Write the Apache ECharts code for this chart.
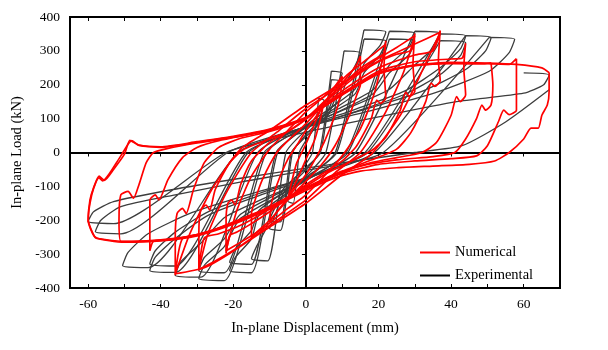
<!DOCTYPE html>
<html><head><meta charset="utf-8">
<script src="https://cdn.jsdelivr.net/npm/echarts@6/dist/echarts.min.js"></script>
<style>html,body{margin:0;padding:0;background:#fff}#c{width:608px;height:350px}</style>
</head><body><div id="c"></div>
<script>
// ---------- axis settings ----------
const xLimits = [-65, 70];
const yLimits = [-400, 400];
const yStep = 100;
const xLabelStep = 20;
const xTitle = 'In-plane Displacement (mm)';
const yTitle = 'In-plane Load (kN)';
const seriesNames = ['Numerical', 'Experimental'];

// ---------- experimental cycles (displacement mm, load kN) ----------
const exp01 = [[3.5,160],[5,154],[4.3,120],[3.1,83],[1.5,58],[0,35],[-1.8,0],[-3.5,-150],[-5,-144],[-4.3,-110],[-3.1,-78],[-1.5,-54],[0,-33],[1.8,0],[3.5,160]];
const exp02 = [[7,240],[10,234],[8.5,195],[6.2,125],[3,86],[0,53],[-3.7,0],[-7,-230],[-10,-224],[-8.5,-185],[-6.2,-120],[-3,-83],[0,-51],[3.7,0],[7,240]];
const exp02b = [[7,215],[10,209],[8.5,172],[6.2,112],[3,77],[0,47],[-4,0],[-7,-205],[-10,-199],[-8.5,-162],[-6.2,-107],[-3,-74],[0,-45],[4,0],[7,215]];
const exp03 = [[10.5,300],[15,294],[13.5,255],[11,205],[9.3,156],[4.5,108],[0,66],[-5.5,0],[-10.5,-320],[-15,-314],[-13.5,-275],[-11,-225],[-9.3,-166],[-4.5,-115],[0,-70],[5.5,0],[10.5,300]];
const exp04 = [[16,362],[22,356],[20.5,317],[16,262],[13.6,188],[6.6,130],[0,80],[-7.8,0],[-15,-355],[-21,-349],[-19.5,-310],[-15,-255],[-13,-185],[-6.3,-128],[0,-78],[8.1,0],[16,362]];
const exp04b = [[16,335],[22,329],[20.5,290],[16,235],[13.6,174],[6.6,121],[0,74],[-8.2,0],[-15,-330],[-21,-324],[-19.5,-285],[-15,-230],[-13,-172],[-6.3,-119],[0,-73],[8.5,0],[16,335]];
const exp05 = [[23,358],[30,352],[28.5,313],[23,258],[18.6,186],[9,129],[0,79],[-10.9,0],[-22.5,-378],[-29.5,-372],[-28,-333],[-22.5,-278],[-18.3,-197],[-8.9,-136],[0,-83],[11.1,0],[23,358]];
const exp05b = [[23,335],[30,329],[28.5,290],[23,235],[18.6,174],[9,121],[0,74],[-11.5,0],[-22.5,-355],[-29.5,-349],[-28,-310],[-22.5,-255],[-18.3,-185],[-8.9,-128],[0,-78],[11.6,0],[23,335]];
const exp06 = [[30,358],[37,352],[35.5,313],[30,258],[22.9,186],[11.1,129],[0,79],[-13.3,0],[-29,-368],[-36,-362],[-34.5,-323],[-29,-268],[-22.3,-191],[-10.8,-132],[0,-81],[13.7,0],[30,358]];
const exp07 = [[37,350],[44,344],[42.5,305],[37,250],[27.3,182],[13.2,126],[0,77],[-15.9,0],[-36,-354],[-43,-348],[-41.5,-309],[-36,-254],[-26.7,-184],[-12.9,-127],[0,-78],[16.3,0],[37,350]];
const exp07b = [[37,330],[44,324],[42.5,285],[37,230],[27.3,172],[13.2,119],[0,73],[-16.5,0],[-36,-335],[-43,-329],[-41.5,-290],[-36,-235],[-26.7,-174],[-12.9,-121],[0,-74],[17,0],[37,330]];
const exp08 = [[44,345],[51,339],[49.5,300],[44,245],[31.6,179],[15.3,124],[0,76],[-18.7,0],[-43.5,-340],[-50.5,-334],[-49,-295],[-43.5,-240],[-31.3,-177],[-15.2,-122],[0,-75],[18.9,0],[44,345]];
const exp09 = [[50.5,340],[57.5,334],[56,295],[50.5,240],[35.7,177],[17.3,122],[0,75],[-21.5,0],[-51,-240],[-58,-234],[-56.5,-200],[-51,-160],[-36,-125],[-17.4,-86],[0,-53],[21.3,0],[50.5,340]];
const exp10 = [[60,235],[67,229],[65.5,200],[60,175],[41.5,150],[20,105],[0,60],[-22,0],[-53,-210],[-60,-204],[-58.5,-175],[-53,-145],[-37,-110],[-18,-76],[0,-46],[30,0],[43,20],[55,90],[67,185]];

// ---------- numerical cycles ----------
const num01 = [[5,150],[4,100],[2.5,40],[0,-20],[-2,-70],[-4,-115],[-5,-140],[-4,-90],[-2.5,-30],[0,25],[2,75],[4,125],[5,150]];
const num02 = [[10,225],[9.5,170],[8,110],[5,30],[2,-30],[0,-65],[-4,-120],[-8,-175],[-10,-205],[-9.5,-150],[-8,-95],[-5,-20],[-2,30],[0,65],[4,125],[8,195],[10,225]];
const num03 = [[15,285],[15,200],[14,170],[12,110],[8,20],[4,-40],[0,-85],[-5,-140],[-10,-200],[-14,-240],[-15,-255],[-15,-180],[-14,-140],[-12,-80],[-8,0],[-4,45],[0,85],[5,145],[10,205],[14,260],[15,285]];
const num04 = [[22,330],[21.5,250],[22,160],[20.5,145],[19.5,155],[18,100],[14,20],[10,-25],[5,-60],[0,-95],[-5,-135],[-10,-175],[-15,-210],[-19,-235],[-21,-245],[-22,-298],[-22,-200],[-21.5,-150],[-20.5,-140],[-19.5,-155],[-18,-95],[-15,-25],[-10,30],[-5,62],[0,100],[5,150],[10,200],[15,248],[20,282],[21.5,292],[22,330]];
const num04b = [[22,320],[18,285],[12,235],[5,165],[0,120],[-5,65],[-10,10],[-15,-70],[-19,-170],[-22,-290],[-18,-265],[-12,-225],[-5,-165],[0,-125],[5,-70],[10,-10],[15,70],[19,180],[22,320]];
const num05 = [[30,351],[29.5,260],[30,180],[28.5,165],[27.5,178],[26,125],[22,45],[18,5],[12,-28],[6,-60],[0,-100],[-6,-140],[-12,-180],[-18,-215],[-24,-240],[-28,-252],[-29.5,-348],[-29.5,-240],[-29,-170],[-27.5,-155],[-26.5,-170],[-25,-110],[-21,-30],[-17,10],[-10,40],[-5,62],[0,98],[5,145],[10,192],[15,235],[20,268],[25,290],[29,302],[30,351]];
const num05b = [[30,345],[25,310],[18,265],[10,200],[0,130],[-8,60],[-15,0],[-22,-120],[-27,-240],[-29.5,-345],[-25,-320],[-18,-275],[-10,-215],[0,-140],[8,-60],[15,0],[22,120],[27,240],[30,345]];
const num06 = [[37,360],[36.5,270],[37,212],[35.5,195],[34.5,205],[33,150],[29,60],[25,10],[18,-22],[10,-55],[5,-78],[0,-103],[-10,-160],[-20,-205],[-28,-238],[-34,-254],[-36,-362],[-36,-250],[-35.5,-180],[-34,-165],[-33,-180],[-31,-110],[-28,-30],[-24,15],[-18,42],[-10,62],[0,100],[5,140],[10,182],[20,250],[30,288],[35,300],[37,360]];
const num06b = [[37,355],[30,320],[20,270],[10,205],[0,140],[-10,65],[-18,10],[-26,-110],[-32,-240],[-36,-358],[-28,-340],[-21,-298],[-10,-220],[0,-150],[10,-65],[18,-5],[26,110],[32,240],[37,355]];
const num07 = [[44,322],[43.5,250],[44,170],[42.5,150],[41.5,165],[40,110],[36,30],[32,0],[25,-15],[18,-30],[10,-58],[0,-105],[-10,-162],[-20,-208],[-30,-242],[-38,-258],[-42,-262],[-43,-290],[-43,-220],[-43,-140],[-41.5,-125],[-40.5,-140],[-38,-80],[-34,-15],[-30,15],[-24,35],[-15,55],[-8,72],[0,102],[10,175],[20,240],[30,268],[40,276],[43,278],[44,322]];
const num08 = [[51,265],[51.5,200],[51,140],[49.5,125],[48.5,140],[47,100],[44,40],[41,0],[35,-12],[25,-22],[15,-40],[8,-65],[0,-106],[-10,-162],[-20,-208],[-30,-243],[-40,-258],[-48,-262],[-51,-262],[-51.5,-200],[-51,-125],[-49,-115],[-47.5,-135],[-46,-95],[-44,-30],[-42,0],[-38,12],[-30,28],[-20,45],[-10,66],[0,102],[10,170],[20,232],[30,256],[40,263],[49,262],[51,265]];
const num09 = [[58,277],[58,200],[58,125],[56,112],[54.5,125],[53,90],[50,20],[47,-10],[40,-18],[30,-25],[20,-35],[10,-62],[0,-108],[-10,-163],[-20,-209],[-30,-244],[-40,-259],[-50,-263],[-56,-256],[-58,-252],[-60,-198],[-59.5,-150],[-58.5,-106],[-57,-74],[-56,-84],[-54,-60],[-51,-10],[-48,35],[-46,21],[-40,15],[-30,30],[-20,46],[-10,67],[0,102],[10,171],[20,233],[30,257],[40,264],[50,262],[56,260],[58,277]];
const num10 = [[67,236],[67,180],[66.5,140],[65,110],[64,72],[62,72],[60,40],[56,0],[52,-25],[45,-35],[35,-40],[25,-45],[15,-55],[8,-75],[0,-112],[-10,-166],[-20,-212],[-30,-246],[-40,-261],[-50,-265],[-58,-250],[-60,-200],[-59.5,-140],[-58.5,-104],[-57,-70],[-55.5,-82],[-53,-50],[-50,-5],[-48.5,36],[-46,22],[-40,17],[-30,32],[-20,48],[-10,69],[0,104],[10,173],[20,235],[30,258],[40,266],[50,264],[58,260],[65,250],[67,236]];

const expCycles = [exp01, exp02, exp02b, exp03, exp04, exp04b, exp05, exp05b, exp06, exp07, exp07b, exp08, exp09, exp10];
const numCycles = [num01, num02, num03, num04, num04b, num05, num05b, num06, num06b, num07, num08, num09, num10];

// ---------- chart ----------
const FONT = "'Liberation Serif','Times New Roman',serif";
const RED = '#ff0000';
const GREY = '#3d3d3d';
const chart = echarts.init(document.getElementById('c'), null, {renderer: 'canvas'});

const series = [];
expCycles.forEach(d => series.push({
  name: seriesNames[1], type: 'line', data: d, xAxisIndex: 0, yAxisIndex: 0,
  symbol: 'none', smooth: 0.2, lineStyle: {color: GREY, width: 1.3}, itemStyle: {color: GREY},
  z: 2, silent: true
}));
numCycles.forEach(d => series.push({
  name: seriesNames[0], type: 'line', data: d, xAxisIndex: 0, yAxisIndex: 0,
  symbol: 'none', smooth: 0.2, lineStyle: {color: RED, width: 1.7}, itemStyle: {color: RED},
  z: 3, silent: true
}));

const xCommon = {type: 'value', min: xLimits[0], max: xLimits[1], splitNumber: 14, splitLine: {show: false}};
const yCommon = {type: 'value', min: yLimits[0], max: yLimits[1], interval: yStep, splitLine: {show: false}};

chart.setOption({
  animation: false,
  backgroundColor: '#fff',
  grid: {left: 70, right: 48, top: 17, bottom: 62, show: true, borderColor: '#000', borderWidth: 2, backgroundColor: 'transparent'},
  legend: {
    orient: 'vertical', left: 415, top: 240, itemGap: 8, icon: 'rect', itemWidth: 30, itemHeight: 2,
    textStyle: {fontFamily: FONT, fontSize: 14.5, color: '#000'},
    data: [{name: seriesNames[0], itemStyle: {color: RED}}, {name: seriesNames[1], itemStyle: {color: '#000'}}]
  },
  xAxis: [
    Object.assign({}, xCommon, {
      position: 'bottom', name: xTitle, nameLocation: 'middle', nameGap: 33,
      nameTextStyle: {fontFamily: FONT, fontSize: 14.5, color: '#000'},
      axisLine: {show: false, onZero: false},
      axisTick: {show: true, inside: true, length: 4, lineStyle: {color: '#000', width: 1}},
      axisLabel: {fontFamily: FONT, fontSize: 13.5, color: '#000', margin: 9,
        formatter: v => (Math.abs(v % xLabelStep) < 1e-9 ? String(v) : '')}
    }),
    Object.assign({}, xCommon, {
      position: 'top', axisLine: {show: false, onZero: false},
      axisTick: {show: true, inside: true, length: 4, lineStyle: {color: '#000', width: 1}},
      axisLabel: {show: false}
    }),
    Object.assign({}, xCommon, {
      position: 'bottom', splitNumber: 7,
      axisLine: {show: true, onZero: true, onZeroAxisIndex: 0, lineStyle: {color: '#000', width: 2}},
      axisTick: {show: true, inside: false, length: 4, lineStyle: {color: '#000', width: 1}},
      axisLabel: {show: false}
    })
  ],
  yAxis: [
    Object.assign({}, yCommon, {
      position: 'left', name: yTitle, nameLocation: 'middle', nameGap: 42, nameRotate: 90,
      nameTextStyle: {fontFamily: FONT, fontSize: 14.5, color: '#000'},
      axisLine: {show: false, onZero: false},
      axisTick: {show: false},
      axisLabel: {fontFamily: FONT, fontSize: 13.5, color: '#000', margin: 10}
    }),
    Object.assign({}, yCommon, {
      position: 'left',
      axisLine: {show: true, onZero: true, onZeroAxisIndex: 0, lineStyle: {color: '#000', width: 2}},
      axisTick: {show: true, inside: false, length: 4, lineStyle: {color: '#000', width: 1}},
      axisLabel: {show: false}
    })
  ],
  series: series
});
</script></body></html>
